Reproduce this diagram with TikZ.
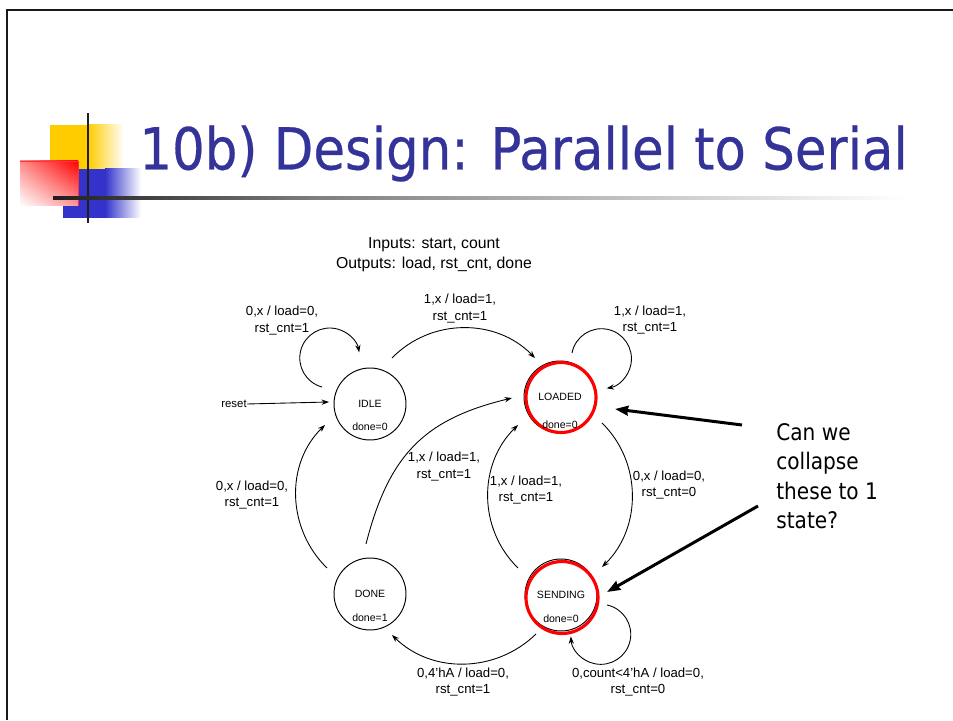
\documentclass[tikz,border=0pt]{standalone}
\usepackage{fontspec}
\setmainfont{Liberation Sans}
\newfontfamily\headfont{DejaVu Sans}
\newfontfamily\titlefont[FakeBold=0.5]{DejaVu Sans}
\usetikzlibrary{arrows.meta,calc,shadings}
\definecolor{titleblue}{HTML}{333399}
\definecolor{sqyellow}{HTML}{FFCC00}
\definecolor{sqblue}{HTML}{3333CC}
\begin{document}
\begin{tikzpicture}[x=0.02cm,y=0.02cm,
  state/.style={circle,draw,line width=0.55pt,minimum size=1.44cm,inner sep=0pt},
  stname/.style={font=\fontsize{6}{7}\selectfont,inner sep=0pt},
  edgelabel/.style={font=\fontsize{7.5}{9.6}\selectfont,align=center,inner sep=0pt},
  edge/.style={line width=0.5pt,-{Stealth[length=4.2pt,width=3pt]}},
  bigarrow/.style={line width=1.7pt,-{Stealth[length=7.5pt,width=5.5pt,inset=0.5pt]}},
  redring/.style={draw=red,line width=1.8pt},
  slideline/.style={line width=1.5pt,draw=black!90}]
\useasboundingbox (0,0) rectangle (953,720);

% slide frame
\draw[slideline] (7,0) -- (7,710) -- (953,710);

% title ornament: coloured squares
\fill[sqyellow] (50,551) rectangle (88,595);
\shade[left color=sqyellow,right color=white] (88,551) rectangle (124,595);
\fill[sqblue] (63,502) rectangle (105,551);
\shade[left color=sqblue,right color=white] (105,502) rectangle (141,551);
\shade[upper right=red,lower left=white,upper left=red!45,lower right=red!40] (20,514) rectangle (78,559);
\draw[red!80,line width=0.4pt] (20,559) -- (78,559) -- (78,514);
% title rules
\draw[line width=1.7pt,draw=black!88] (88,497) -- (88,607);
\shade[left color=black!88,right color=black!50] (53,520.5) rectangle (320,523.5);
\shade[left color=black!50,right color=white] (320,520.5) rectangle (905,523.5);

% title
\node[anchor=base west,text=titleblue,inner sep=0pt,font=\titlefont\fontsize{33}{40}\selectfont] (title) at (139,550.5)
  {\scalebox{0.887}[1]{10b) Design: Parallel to Serial}};

% inputs / outputs
\node[font=\fontsize{9}{11.3}\selectfont,align=center,inner sep=0pt] (io) at (434,465)
  {Inputs: start, count\\Outputs: load, rst\_cnt, done};

% states
\node[state] (idle) at (370,316) {};
\node[state] (loaded) at (560,323) {};
\node[state] (done) at (370,126) {};
\node[state] (sending) at (561,125) {};
\draw[redring] ($(loaded)+(1,-0.5)$) circle[radius=35];
\draw[redring] ($(sending)+(1,-2.5)$) circle[radius=36];

\node[stname] (idle-n) at (idle) {IDLE};
\node[stname] (idle-o) at ($(idle)+(0,-23)$) {done=0};
\node[stname] (loaded-n) at (loaded) {LOADED};
\node[stname] (loaded-o) at ($(loaded)+(0,-28)$) {done=0};
\node[stname] (done-n) at (done) {DONE};
\node[stname] (done-o) at ($(done)+(0,-24)$) {done=1};
\node[stname] (sending-n) at (sending) {SENDING};
\node[stname] (sending-o) at ($(sending)+(0,-24)$) {done=0};

% reset input
\node[font=\fontsize{6.5}{8}\selectfont,inner sep=0pt] (reset) at (234,316) {reset};
\draw[edge] (reset.east) -- ($(idle)+(-41,2)$);

% transitions
\draw[edge] ($(idle)+(-48,17)$) arc[start angle=255,end angle=11,radius=30];
\draw[edge] ($(idle)+(22,46)$) .. controls ($(idle)+(61,86)$) and ($(loaded)+(-64,79)$) .. ($(loaded)+(-25,39)$);
\draw[edge] ($(loaded)+(12,44)$) arc[start angle=169,end angle=-80,radius=30];
\draw[edge] ($(loaded)+(42,-26)$) .. controls ($(loaded)+(82,-65)$) and ($(sending)+(81,67)$) .. ($(sending)+(41,28)$);
\draw[edge] ($(sending)+(-43,27)$) .. controls ($(sending)+(-83,66)$) and ($(loaded)+(-82,-67)$) .. ($(loaded)+(-42,-28)$);
\draw[edge] ($(done)+(-4,50)$) .. controls ($(done)+(19,140)$) and ($(loaded)+(-135,-22)$) .. ($(loaded)+(-48,-1)$);
\draw[edge] ($(done)+(-43,26)$) .. controls ($(done)+(-83,65)$) and ($(idle)+(-85,-60)$) .. ($(idle)+(-45,-21)$);
\draw[edge] ($(sending)+(-25,-39)$) .. controls ($(sending)+(-65,-78)$) and ($(done)+(62,-80)$) .. ($(done)+(22,-41)$);
\draw[edge] ($(sending)+(46,-10)$) arc[start angle=78,end angle=-176,radius=30];

% transition labels
\node[edgelabel] (t1) at (282,399.5) {0,x / load=0,\\rst\_cnt=1};
\node[edgelabel] (t2) at (460,411.5) {1,x / load=1,\\rst\_cnt=1};
\node[edgelabel] (t3) at (650,400) {1,x / load=1,\\rst\_cnt=1};
\node[edgelabel] (t4) at (669,235) {0,x / load=0,\\rst\_cnt=0};
\node[edgelabel] (t5) at (526,230) {1,x / load=1,\\rst\_cnt=1};
\node[edgelabel] (t6) at (444,253.5) {1,x / load=1,\\rst\_cnt=1};
\node[edgelabel] (t7) at (252,225) {0,x / load=0,\\rst\_cnt=1};
\node[edgelabel] (t8) at (463,38) {0,4'hA / load=0,\\rst\_cnt=1};
\node[edgelabel] (t9) at (638,38) {0,count<4'hA / load=0,\\rst\_cnt=0};

% question with pointers (base anchor sits on the last line)
\node[anchor=base west,align=left,inner sep=0pt,font=\headfont\fontsize{13}{16.7}\selectfont] (question) at (776,191.5)
  {\scalebox{0.88}[1]{Can we}\\\scalebox{0.88}[1]{collapse}\\\scalebox{0.88}[1]{these to 1}\\\scalebox{0.88}[1]{state?}};
\coordinate (qa) at (742,295);
\coordinate (qb) at (758,214);
\draw[bigarrow] (qa) -- ($(loaded)+(55,-12)$);
\draw[bigarrow] (qb) -- ($(sending)+(46,3)$);
\end{tikzpicture}
\end{document}
